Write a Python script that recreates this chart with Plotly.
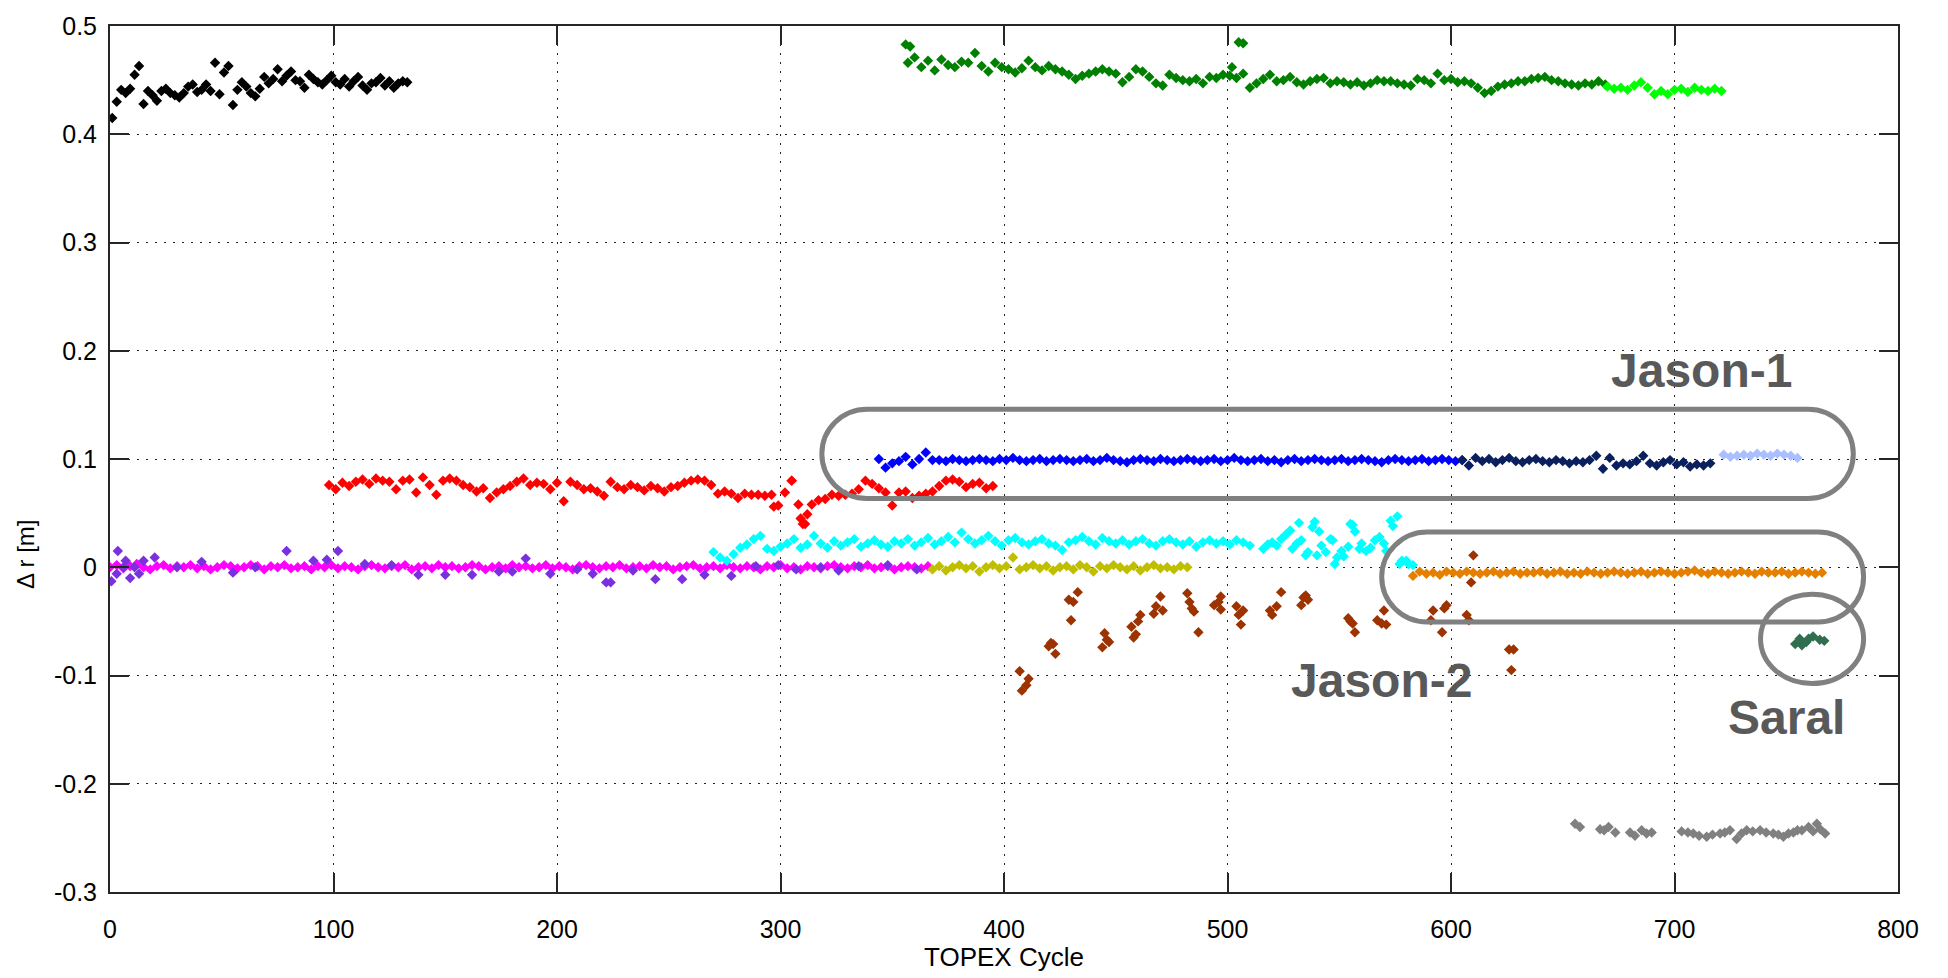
import plotly.graph_objects as go

# ---------------- data ----------------
black_start, black_step = 1, 2
black_vals = [0.415, 0.430, 0.441, 0.438, 0.442, 0.455, 0.463, 0.428, 0.440, 0.436,
              0.431, 0.440, 0.442, 0.438, 0.436, 0.434, 0.438, 0.444, 0.446, 0.439,
              0.441, 0.446, 0.440, 0.466, 0.437, 0.457, 0.463, 0.427, 0.441, 0.448,
              0.444, 0.438, 0.435, 0.442, 0.453, 0.447, 0.451, 0.460, 0.449, 0.454,
              0.458, 0.450, 0.449, 0.443, 0.455, 0.451, 0.448, 0.446, 0.450, 0.454,
              0.448, 0.446, 0.451, 0.444, 0.449, 0.453, 0.445, 0.441, 0.447, 0.448,
              0.452, 0.445, 0.449, 0.443, 0.447, 0.449, 0.448]

green_start, green_step = 357, 3
green_vals = [0.466, 0.471, 0.462, 0.468, 0.459, 0.469, 0.464, 0.462, 0.467, 0.466,
              0.475, 0.463, 0.458, 0.466, 0.462, 0.460, 0.457, 0.461, 0.468, 0.462,
              0.459, 0.463, 0.460, 0.458, 0.455, 0.451, 0.454, 0.456, 0.458, 0.460,
              0.458, 0.456, 0.448, 0.453, 0.460, 0.458, 0.453, 0.447, 0.445, 0.455,
              0.452, 0.450, 0.449, 0.451, 0.447, 0.453, 0.452, 0.455, 0.454, 0.452,
              0.456, 0.443, 0.447, 0.451, 0.455, 0.449, 0.450, 0.453, 0.448, 0.446,
              0.449, 0.451, 0.452, 0.447, 0.449, 0.448, 0.446, 0.448, 0.445, 0.447,
              0.450, 0.449, 0.449, 0.447, 0.446, 0.445, 0.451, 0.450, 0.447, 0.456,
              0.450, 0.451, 0.448, 0.449, 0.447, 0.443, 0.438, 0.440, 0.444, 0.446,
              0.447, 0.449, 0.449, 0.451, 0.452, 0.453, 0.450, 0.449, 0.447, 0.446,
              0.445, 0.447, 0.446, 0.449, 0.446]
green_extra_x = [356, 358, 502, 505, 507]
green_extra_y = [0.483, 0.481, 0.462, 0.485, 0.484]

lime_start, lime_step = 670, 3
lime_vals = [0.444, 0.442, 0.443, 0.441, 0.445, 0.448, 0.443, 0.437, 0.440, 0.437,
             0.441, 0.442, 0.439, 0.443, 0.441, 0.440, 0.442, 0.440]

red_start, red_step = 98, 3
red_vals = [0.076, 0.072, 0.078, 0.075, 0.079, 0.081, 0.077, 0.082, 0.080, 0.079,
            0.072, 0.080, 0.081, 0.069, 0.083, 0.076, 0.067, 0.080, 0.082, 0.080,
            0.076, 0.074, 0.070, 0.073, 0.064, 0.069, 0.072, 0.075, 0.079, 0.082,
            0.076, 0.078, 0.077, 0.072, 0.078, 0.061, 0.079, 0.076, 0.072, 0.073,
            0.070, 0.066, 0.079, 0.074, 0.072, 0.076, 0.074, 0.071, 0.075, 0.073,
            0.070, 0.074, 0.075, 0.078, 0.080, 0.081, 0.080, 0.076, 0.068, 0.070,
            0.068, 0.064, 0.068, 0.067, 0.067, 0.066, 0.067, 0.057, 0.069, 0.080,
            0.058, 0.040, 0.058, 0.062, 0.063, 0.067, 0.066, 0.067, 0.068, 0.072,
            0.080, 0.077, 0.073, 0.069, 0.057, 0.069, 0.070, 0.064, 0.066, 0.068,
            0.070, 0.075, 0.080, 0.081, 0.079, 0.074, 0.077, 0.078, 0.073, 0.075]
red_extra_x = [297, 305, 309, 310, 312]
red_extra_y = [0.056, 0.080, 0.045, 0.040, 0.049]

magenta_start, magenta_step = 0, 3
magenta_vals = [0.000, 0.002, -0.001, 0.001, 0.003, 0.000, -0.002, 0.001, 0.002, -0.001,
                0.001, 0.000, 0.002, -0.001, 0.001, -0.002, 0.000, 0.002, 0.001, -0.001,
                0.000, 0.002, 0.001, -0.002, 0.001, 0.000, 0.002, -0.001, 0.000, 0.001,
                -0.002, 0.001, 0.000, 0.002, -0.001, 0.001, 0.000, -0.002, 0.001, 0.002,
                0.000, -0.001, 0.001, 0.000, 0.002, -0.002, 0.000, 0.001, -0.001, 0.002,
                0.000, 0.001, -0.001, 0.000, 0.002, 0.001, -0.002, 0.000, 0.001, -0.001,
                0.002, 0.000, 0.001, -0.001, 0.000, 0.002, -0.001, 0.001, 0.000, -0.002,
                0.001, 0.002, 0.000, -0.001, 0.001, 0.000, 0.002, -0.001, 0.000, 0.001,
                -0.001, 0.002, 0.000, 0.001, -0.002, 0.000, 0.001, 0.002, -0.001, 0.000,
                0.001, -0.001, 0.002, 0.000, -0.001, 0.001, 0.000, -0.002, 0.001, 0.000,
                0.002, -0.001, 0.000, -0.002, 0.001, 0.000, -0.001, 0.001, 0.002, 0.000,
                -0.001, 0.001, 0.000, 0.002, -0.001, 0.000, 0.001, -0.002, 0.000, 0.001,
                0.000, -0.001, 0.001]

purple_x = [0.6, 3, 3.5, 6, 7, 9, 11, 13, 15, 20, 30, 41, 55, 65, 79, 91, 97, 102, 114, 126,
            138, 150, 162, 174, 180, 186, 197, 209, 216, 222, 224, 234, 244, 256, 266, 278,
            289, 299, 307, 318, 326, 335, 348, 361]
purple_y = [-0.013, -0.006, 0.015, 0.000, 0.006, -0.010, 0.000, -0.006, 0.006, 0.009,
            0.000, 0.005, -0.005, 0.000, 0.015, 0.006, 0.007, 0.015, 0.003, 0.002,
            -0.007, -0.007, -0.007, -0.004, -0.004, 0.008, -0.006, -0.002, -0.006, -0.014,
            -0.014, -0.003, -0.011, -0.011, -0.007, -0.008, 0.001, 0.002, -0.002, 0.000,
            -0.003, 0.001, 0.002, -0.002]

cyan_start, cyan_step = 270, 3
cyan_vals = [0.014, 0.009, 0.006, 0.012, 0.018, 0.021, 0.026, 0.029, 0.017, 0.015,
             0.019, 0.022, 0.026, 0.018, 0.021, 0.029, 0.022, 0.018, 0.024, 0.020,
             0.023, 0.026, 0.019, 0.022, 0.025, 0.021, 0.019, 0.024, 0.022, 0.026,
             0.020, 0.023, 0.027, 0.021, 0.024, 0.028, 0.023, 0.032, 0.026, 0.022,
             0.025, 0.029, 0.024, 0.020, 0.025, 0.027, 0.023, 0.021, 0.024, 0.026,
             0.022, 0.020, 0.016, 0.023, 0.025, 0.028, 0.024, 0.021, 0.027, 0.024,
             0.022, 0.025, 0.021, 0.024, 0.026, 0.022, 0.020, 0.024, 0.026, 0.023,
             0.021, 0.024, 0.019, 0.023, 0.025, 0.022, 0.024, 0.021, 0.025, 0.023,
             0.020]
cyan_extra_x = [516, 518, 520, 522, 524, 526, 528, 529, 531, 532, 533, 535, 536, 538, 539,
                540, 541, 542, 544, 546, 547, 548, 549, 551, 552, 554, 555, 556, 557, 559,
                560, 562, 564, 566, 568, 570, 571, 573, 574, 576, 577, 578, 580, 581, 583]
cyan_extra_y = [0.017, 0.021, 0.023, 0.020, 0.026, 0.030, 0.034, 0.017, 0.022, 0.041,
                0.025, 0.011, 0.014, 0.037, 0.042, 0.011, 0.033, 0.020, 0.014, 0.026,
                0.025, 0.003, 0.009, 0.015, 0.010, 0.019, 0.040, 0.039, 0.033, 0.017,
                0.022, 0.015, 0.018, 0.025, 0.028, 0.022, 0.015, 0.043, 0.038, 0.047,
                0.003, 0.006, 0.006, 0.003, 0.002]

blue_start, blue_step = 344, 3
blue_vals = [0.100, 0.092, 0.096, 0.098, 0.102, 0.095, 0.100, 0.106, 0.099,
             0.099, 0.098, 0.100, 0.099, 0.098, 0.099, 0.100, 0.099, 0.098, 0.100,
             0.099, 0.101, 0.099, 0.098, 0.099, 0.100, 0.098, 0.099, 0.100, 0.099,
             0.098, 0.099, 0.100, 0.098, 0.099, 0.101, 0.099, 0.098, 0.097, 0.099,
             0.100, 0.099, 0.098, 0.100, 0.099, 0.098, 0.099, 0.100, 0.099, 0.098,
             0.099, 0.100, 0.098, 0.099, 0.101, 0.099, 0.098, 0.099, 0.100, 0.098,
             0.099, 0.097, 0.099, 0.100, 0.098, 0.099, 0.100, 0.099, 0.098, 0.099,
             0.100, 0.098, 0.099, 0.100, 0.099, 0.098, 0.097, 0.099, 0.100, 0.099,
             0.098, 0.099, 0.100, 0.098, 0.099, 0.100, 0.099, 0.098, 0.099]

navy_start, navy_step = 605, 3
navy_vals = [0.099, 0.094, 0.101, 0.098, 0.100, 0.097, 0.099, 0.101, 0.098, 0.097,
             0.099, 0.100, 0.098, 0.097, 0.099, 0.098, 0.096, 0.098, 0.097, 0.099,
             0.103, 0.091, 0.101, 0.094, 0.096, 0.095, 0.098, 0.103, 0.096, 0.094,
             0.097, 0.099, 0.095, 0.097, 0.093, 0.095, 0.094, 0.096]

lightblue_start, lightblue_step = 722, 3
lightblue_vals = [0.104, 0.102, 0.103, 0.104, 0.103, 0.105, 0.104, 0.103, 0.105, 0.104,
                  0.103, 0.101]

olive_start, olive_step = 368, 3
olive_vals = [-0.002, 0.001, -0.003, 0.000, 0.002, -0.001, 0.001, -0.004, 0.000, 0.002,
              -0.001, 0.001, 0.009, -0.002, 0.000, 0.002, -0.001, 0.001, -0.003, 0.000,
              0.001, -0.002, 0.002, 0.000, -0.004, 0.001, -0.001, 0.002, 0.000, -0.002,
              0.001, -0.003, 0.000, 0.002, -0.001, 0.000, -0.002, 0.001, 0.000]

orange_start, orange_step = 583, 3
orange_vals = [-0.008, -0.004, -0.006, -0.005, -0.007, -0.004, -0.005, -0.006, -0.004, -0.005,
               -0.006, -0.005, -0.004, -0.006, -0.005, -0.004, -0.006, -0.005, -0.005, -0.004,
               -0.006, -0.005, -0.004, -0.006, -0.005, -0.006, -0.004, -0.005, -0.006, -0.005,
               -0.004, -0.005, -0.006, -0.005, -0.004, -0.006, -0.005, -0.004, -0.005, -0.006,
               -0.005, -0.004, -0.003, -0.005, -0.006, -0.004, -0.005, -0.006, -0.005, -0.004,
               -0.005, -0.006, -0.004, -0.005, -0.005, -0.004, -0.006, -0.005, -0.004, -0.005,
               -0.006, -0.005]

brown_x = [407, 408, 410, 411, 420, 421, 422, 423, 430, 429, 431, 433, 444, 445, 446, 447,
           457, 458, 459, 460, 461, 467, 468, 470, 471, 482, 483, 484, 485, 487, 494, 496,
           497, 497, 504, 505, 507, 506, 519, 520, 522, 524, 533, 534, 535, 536, 554, 555,
           556, 557, 567, 569, 570, 571, 591, 592, 596, 597, 598, 607, 608, 609, 610, 626,
           628, 627]
brown_y = [-0.096, -0.114, -0.109, -0.103, -0.073, -0.070, -0.071, -0.080, -0.049, -0.030,
           -0.032, -0.023, -0.074, -0.061, -0.067, -0.069, -0.055, -0.065, -0.062, -0.050,
           -0.044, -0.043, -0.036, -0.027, -0.040, -0.024, -0.032, -0.038, -0.041, -0.060,
           -0.035, -0.032, -0.027, -0.039, -0.036, -0.044, -0.040, -0.053, -0.040, -0.044,
           -0.036, -0.023, -0.035, -0.028, -0.026, -0.030, -0.047, -0.050, -0.052, -0.060,
           -0.049, -0.052, -0.040, -0.053, -0.049, -0.040, -0.060, -0.038, -0.035, -0.044,
           -0.049, -0.014, 0.011, -0.076, -0.076, -0.095]

saral_x = [754, 756, 757, 759, 760, 762, 765, 767]
saral_y = [-0.071, -0.066, -0.072, -0.069, -0.066, -0.064, -0.067, -0.068]

gray_x = [655.5, 657.7, 666.7, 668.5, 670.5, 673.5, 680.1, 682.3, 685.3, 687.5, 689.8,
          703.2, 706, 708.4, 711, 714.4, 717, 720.4, 722.5, 724.8, 727.8, 730, 732.3, 735,
          738.3, 741, 744.2, 746.5, 748.7, 751, 753.2, 755, 757, 760, 762, 763.7, 765.2,
          767.4]
gray_y = [-0.237, -0.240, -0.242, -0.243, -0.240, -0.245, -0.245, -0.248, -0.243, -0.246,
          -0.245, -0.244, -0.245, -0.246, -0.248, -0.249, -0.247, -0.246, -0.245, -0.243,
          -0.251, -0.246, -0.243, -0.244, -0.243, -0.245, -0.246, -0.247, -0.249, -0.246,
          -0.245, -0.243, -0.243, -0.240, -0.244, -0.237, -0.242, -0.246]

x_ticks = [0, 100, 200, 300, 400, 500, 600, 700, 800]
y_ticks = [-0.3, -0.2, -0.1, 0, 0.1, 0.2, 0.3, 0.4, 0.5]
y_tick_text = ["-0.3", "-0.2", "-0.1", "0", "0.1", "0.2", "0.3", "0.4", "0.5"]

# ---------------- figure ----------------
W, H = 1948, 978
ML, MR, MT, MB = 110, 50, 16, 86
PW, PH = W - ML - MR, H - MT - MB
XR, YR = (0, 800), (-0.3, 0.5)


def cycles(start, step, vals):
    return [start + step * i for i in range(len(vals))]


fig = go.Figure()


def add(x, y, color):
    fig.add_trace(go.Scatter(x=x, y=y, mode="markers", showlegend=False,
                             marker=dict(symbol="diamond", size=8, color=color,
                                         line=dict(width=0)),
                             hoverinfo="x+y"))


add(cycles(black_start, black_step, black_vals), black_vals, "#000000")
add(cycles(green_start, green_step, green_vals) + green_extra_x, green_vals + green_extra_y, "#008000")
add(cycles(lime_start, lime_step, lime_vals), lime_vals, "#00ff00")
add(cycles(red_start, red_step, red_vals) + red_extra_x, red_vals + red_extra_y, "#ff0000")
add(cycles(magenta_start, magenta_step, magenta_vals), magenta_vals, "#ff00ff")
add(purple_x, purple_y, "#7a2fe0")
add(cycles(cyan_start, cyan_step, cyan_vals) + cyan_extra_x, cyan_vals + cyan_extra_y, "#00ffff")
add(cycles(blue_start, blue_step, blue_vals), blue_vals, "#0000ff")
add(cycles(navy_start, navy_step, navy_vals), navy_vals, "#0a1f5e")
add(cycles(lightblue_start, lightblue_step, lightblue_vals), lightblue_vals, "#aabfff")
add(cycles(olive_start, olive_step, olive_vals), olive_vals, "#bfbf00")
add(brown_x, brown_y, "#9c3300")
add(cycles(orange_start, orange_step, orange_vals), orange_vals, "#e57f00")
add(saral_x, saral_y, "#2f6f4f")
add(gray_x, gray_y, "#808080")

# rounded (stadium) outline shapes around the Jason groups
def stadium(x0, x1, y0, y1):
    ry = (y1 - y0) / 2.0
    ym = (y0 + y1) / 2.0
    r_px = ry * PH / (YR[1] - YR[0])
    rx = r_px * (XR[1] - XR[0]) / PW
    k = 0.5523
    return (f"M {x0+rx},{y1} L {x1-rx},{y1} "
            f"C {x1-rx+k*rx},{y1} {x1},{ym+k*ry} {x1},{ym} "
            f"C {x1},{ym-k*ry} {x1-rx+k*rx},{y0} {x1-rx},{y0} "
            f"L {x0+rx},{y0} "
            f"C {x0+rx-k*rx},{y0} {x0},{ym-k*ry} {x0},{ym} "
            f"C {x0},{ym+k*ry} {x0+rx-k*rx},{y1} {x0+rx},{y1} Z")


shape_line = dict(color="#808080", width=5)
fig.add_shape(type="path", path=stadium(318.5, 780, 0.0635, 0.146), line=shape_line,
              xref="x", yref="y")
fig.add_shape(type="path", path=stadium(569, 784.6, -0.0505, 0.0325), line=shape_line,
              xref="x", yref="y")
fig.add_shape(type="circle", x0=738.5, x1=784.6, y0=-0.1075, y1=-0.025, line=shape_line,
              xref="x", yref="y")

label_font = dict(family="Liberation Sans, Arial, sans-serif", size=48, color="#595959")
for txt, lx, ly in [("<b>Jason-1</b>", 712, 0.182), ("<b>Jason-2</b>", 569, -0.1046),
                    ("<b>Saral</b>", 750, -0.139)]:
    fig.add_annotation(x=lx, y=ly, xref="x", yref="y", text=txt, showarrow=False,
                       font=label_font, xanchor="center", yanchor="middle")

title_font = dict(family="Liberation Sans, Arial, sans-serif", size=26, color="#000000")
fig.add_annotation(x=0.5, y=(MB - (958 - (H - MB)) - MB) / PH, xref="paper", yref="paper",
                   text="TOPEX Cycle", showarrow=False, font=title_font,
                   xanchor="center", yanchor="middle")
fig.add_annotation(x=(26 - ML) / PW, y=(H - MB - 551) / PH, xref="paper", yref="paper",
                   text="Δ r [m]", textangle=-90, showarrow=False, font=dict(title_font, size=24),
                   xanchor="center", yanchor="middle")

axis_common = dict(showgrid=True, gridcolor="#222222", gridwidth=1.2, griddash="2px,7px",
                   zeroline=False, showline=True, linecolor="#262626", linewidth=2,
                   mirror="allticks", ticks="inside", ticklen=19, tickwidth=1.5,
                   tickcolor="#262626",
                   tickfont=dict(family="Liberation Sans, Arial, sans-serif", size=25,
                                 color="#000000"))

fig.update_xaxes(range=list(XR), tickvals=x_ticks, ticktext=[str(v) for v in x_ticks],
                 ticklabelstandoff=14, **axis_common)
fig.update_yaxes(range=list(YR), tickvals=y_ticks, ticktext=y_tick_text,
                 ticklabelstandoff=6, **axis_common)

fig.update_layout(width=W, height=H, margin=dict(l=ML, r=MR, t=MT, b=MB),
                  plot_bgcolor="white", paper_bgcolor="white", showlegend=False)

fig.write_html("out.html")
